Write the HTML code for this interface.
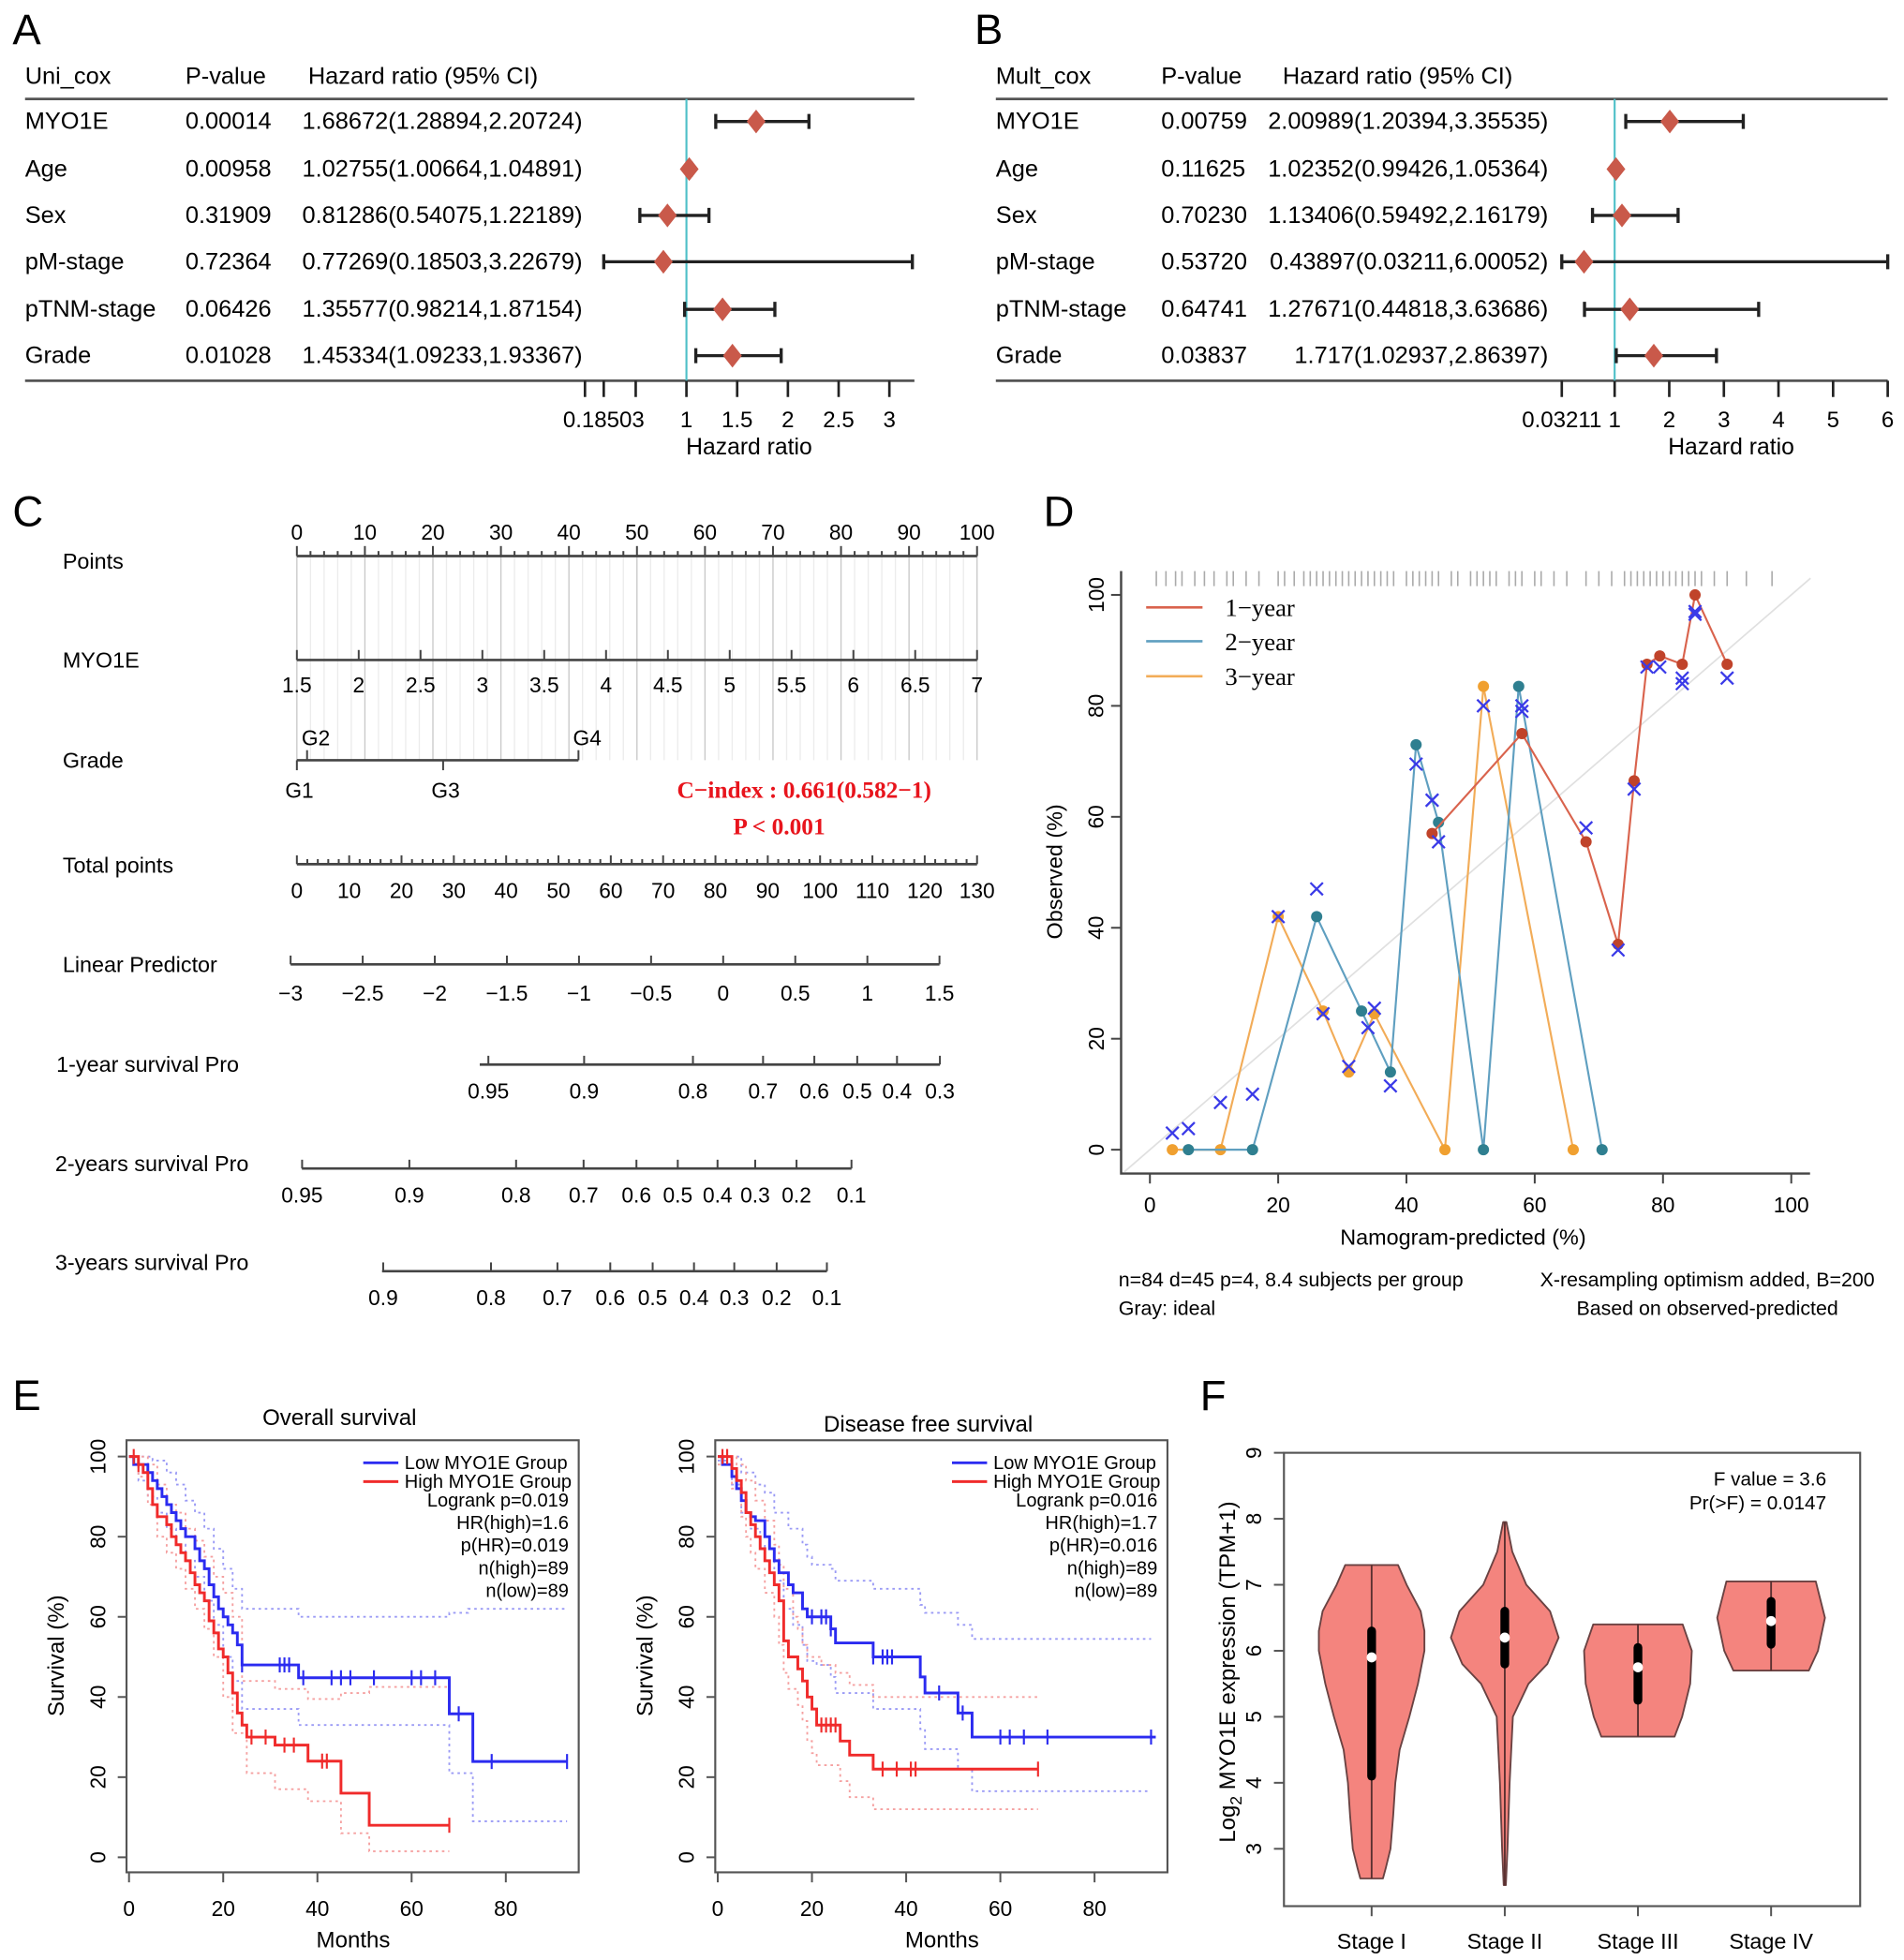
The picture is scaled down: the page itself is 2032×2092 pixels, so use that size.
<!DOCTYPE html>
<html><head><meta charset="utf-8">
<style>
html,body{margin:0;padding:0;background:#fff}
svg{display:block;font-family:"Liberation Sans",Arial,sans-serif}
</style></head>
<body>
<svg id="fig" width="2032" height="2092" viewBox="0 0 1520 1565" preserveAspectRatio="none" xmlns="http://www.w3.org/2000/svg">
<rect width="1520" height="1565" fill="#fff"/>
<g font-size="34" fill="#000">
<text x="10" y="35">A</text>
<text x="778" y="35">B</text>
<text x="10" y="420">C</text>
<text x="833" y="420">D</text>
<text x="10" y="1126">E</text>
<text x="958" y="1126">F</text>
</g>
</svg>
<script>
// ---------- Panel A data ----------
const uniVars=['MYO1E','Age','Sex','pM-stage','pTNM-stage','Grade'];
const uniP=['0.00014','0.00958','0.31909','0.72364','0.06426','0.01028'];
const uniHR=[1.68672,1.02755,0.81286,0.77269,1.35577,1.45334];
const uniLo=[1.28894,1.00664,0.54075,0.18503,0.98214,1.09233];
const uniHi=[2.20724,1.04891,1.22189,3.22679,1.87154,1.93367];
const uniTicks=[0,0.18503,0.5,1,1.5,2,2.5,3];
const uniTickLabels=['','0.18503','','1','1.5','2','2.5','3'];
// ---------- Panel B data ----------
const multVars=['MYO1E','Age','Sex','pM-stage','pTNM-stage','Grade'];
const multP=['0.00759','0.11625','0.70230','0.53720','0.64741','0.03837'];
const multHR=[2.00989,1.02352,1.13406,0.43897,1.27671,1.717];
const multLo=[1.20394,0.99426,0.59492,0.03211,0.44818,1.02937];
const multHi=[3.35535,1.05364,2.16179,6.00052,3.63686,2.86397];
const multTicks=[0.03211,1,2,3,4,5,6];
const multTickLabels=['0.03211','1','2','3','4','5','6'];
// ---------- Panel C data ----------
const pointsTicks=[0,10,20,30,40,50,60,70,80,90,100];
const myoTicks=[1.5,2,2.5,3,3.5,4,4.5,5,5.5,6,6.5,7];
const gradeLabels=['G1','G2','G3','G4'];
const gradePoints=[0,1.5,21.5,41.4];
const totalTicks=[0,10,20,30,40,50,60,70,80,90,100,110,120,130];
const lpTicks=[-3,-2.5,-2,-1.5,-1,-0.5,0,0.5,1,1.5];
const surv1Labels=['0.95','0.9','0.8','0.7','0.6','0.5','0.4','0.3'];
const surv1Points=[36.6,54.9,75.7,89.1,98.9,107.1,114.7,122.9];
const surv2Labels=['0.95','0.9','0.8','0.7','0.6','0.5','0.4','0.3','0.2','0.1'];
const surv2Points=[1.0,21.5,41.9,54.8,64.9,72.8,80.4,87.6,95.5,106];
const surv3Labels=['0.9','0.8','0.7','0.6','0.5','0.4','0.3','0.2','0.1'];
const surv3Points=[16.5,37.1,49.8,59.9,68,75.9,83.6,91.7,101.3];
// ---------- Panel D data ----------
const cal1X=[44,58,68,73,75.5,77.5,79.5,83,85,90];
const cal1Y=[57,75,55.5,37,66.5,87.5,89,87.5,100,87.5];
const cal2X=[6,16,26,33,37.5,41.5,45,52,57.5,70.5];
const cal2Y=[0,0,42,25,14,73,59,0,83.5,0];
const cal3X=[3.5,11,20,27,31,35,46,52,66];
const cal3Y=[0,0,42,25,14,24.5,0,83.5,0];
const calCorrX=[3.5,6,11,16,20,26,27,31,34,35,37.5,41.5,44,44,45,52,58,58,68,73,75.5,77.5,79.5,83,83,85,85,90];
const calCorrY=[3,3.8,8.5,10,42,47,24.5,15,22,25.5,11.5,69.5,63,63,55.5,80,80,79,58,36,65,87,87,85,84,97,96.5,85];
const rugX=[1,2.5,4,5,7,8.5,10,12,13,15,17,20,21,22.5,24,25,26,27,28,29,30,31,32,33,34,35,36,37,38,40,41,42,43,44,45,47,48,50,51,52,53,54,56,57,58,60,61,63,65,68,70,72,74,75,76,77,78,79,80,81,82,83,84,85,86,88,90,93,97];
const calTicks=[0,20,40,60,80,100];
// ---------- Panel E data ----------
const osLowT=[0,1,4,5,6,7,8,9,10,11,12,14,15,16,17,18,19,20,21,22,23,24,36,68,73];
const osLowS=[100,98,96,94,92,90,88,86,84,82,80,77,74,72,68,65,62,60,58,56,53,48,44.8,35.8,23.9];
const osHighT=[0,2,3,4,5,6,8,9,10,11,12,13,14,15,16,17,18,19,20,21,22,23,24,25,31,38,45,51];
const osHighS=[100,98,96,92,88,85,83,80,78,76,74,71,68,66,64,59,56,52,50,46,41,36,33,30,28,24,16,8];
const osLowUpT=[0,3,5,8,10,12,14,16,18,20,22,24,36,68,72];
const osLowUpS=[100,100,99,96,93,89,86,82,77,72,67,62,60,61,62];
const osLowLoT=[0,2,4,6,8,10,12,14,16,18,20,22,24,36,68,73];
const osLowLoS=[100,94,90,86,82,78,74,70,64,58,50,44,37,33,21,9];
const osHighUpT=[0,4,6,8,10,12,14,16,18,20,22,24,31,38,45,51];
const osHighUpS=[100,98,93,88,86,82,79,75,70,66,60,44,42,39.5,41,42.5];
const osHighLoT=[0,2,4,6,8,10,12,14,16,18,20,22,25,31,38,45,51];
const osHighLoS=[100,95,88,80,76,72,67,62,57,50,40,31,21,17,14,6,1.5];
const osLowCens=[24,32,33,34,37,43,45,47,52,60,62,65,70,77,93];
const osHighCens=[1,2,26,29,33,35,41,42,68];
const dfsLowT=[0,1,3,4,5,6,7,8,10,11,12,13,15,16,18,19,24,25,33,43,44,51,54];
const dfsLowS=[100,98,95,92,89,86,85,84,80,77,74,71,68,66,62,60,57,53.5,50,45,41,36,30];
const dfsHighT=[0,3,4,5,6,7,8,9,10,11,12,13,14,15,17,18,19,20,21,26,28,33];
const dfsHighS=[100,97,94,91,86,83,80,77,74,71,68,64,54,50,47,44,40,37,33,29,25.5,22];
const dfsLowUpT=[0,5,8,10,12,15,18,19,20,24,25,33,43,44,51,54];
const dfsLowUpS=[100,96,93,91,86,82,78,75,73,72,69,67,63,61,58,54.5];
const dfsLowLoT=[0,3,5,7,9,10,12,14,16,18,19,21,24,25,33,43,44,51,54];
const dfsLowLoS=[99,93,86,82,78,74,69,62,58,53,49,48,45,41,37,32,27,22,16.5];
const dfsHighUpT=[0,4,6,8,10,12,13,14,16,17,18,19,22,25,28,33];
const dfsHighUpS=[100,98,94,89,84,78,73,67,60,57,53,50,48,46,43,40];
const dfsHighLoT=[0,3,5,6,7,8,10,12,13,14,15,17,18,19,20,21,26,28,33];
const dfsHighLoS=[98,92,85,80,76,72,66,60,53,46,42,38,34,29,26,23,19,15,12];
const dfsLowCens=[20,22,23,24,33,35,36,37,47,52,60,62,65,70,92];
const dfsHighCens=[1,2,22,23,24,25,35,38,41,42,68];
const kmXTicks=[0,20,40,60,80];
const kmYTicks=[0,20,40,60,80,100];
// ---------- Panel F data ----------
const stages=['Stage I','Stage II','Stage III','Stage IV'];
const vioVals=[
 [2.55,2.7,3.0,3.5,4.0,4.5,5.0,5.5,6.0,6.3,6.6,7.0,7.3],
 [2.45,3.0,3.5,4.0,4.5,5.0,5.5,5.8,6.2,6.6,7.0,7.5,7.95],
 [4.7,5.0,5.5,6.0,6.4],
 [5.7,6.0,6.5,7.05]];
const vioDens=[
 [0.21,0.26,0.35,0.40,0.44,0.52,0.70,0.86,0.98,0.98,0.91,0.65,0.49],
 [0.02,0.05,0.07,0.09,0.12,0.15,0.44,0.79,1.0,0.84,0.40,0.14,0.03],
 [0.68,0.82,0.97,1.0,0.83],
 [0.70,0.87,1.0,0.83]];
const vioMed=[5.9,6.2,5.75,6.45];
const vioQ1=[4.1,5.8,5.25,6.1];
const vioQ3=[6.3,6.6,6.05,6.75];
const fTicks=[3,4,5,6,7,8,9];

const NS='http://www.w3.org/2000/svg';
const svg=document.getElementById('fig');
function mk(tag,attrs,parent){const e=document.createElementNS(NS,tag);for(const k in attrs)e.setAttribute(k,attrs[k]);(parent||svg).appendChild(e);return e;}
function tx(x,y,s,attrs,parent){const e=mk('text',Object.assign({x:x,y:y},attrs||{}),parent);e.textContent=s;return e;}

// ================= Forest plots =================
function forest(gname,xs,x0,x1,vars,ps,hr,lo,hi,ticks,tickLabels,hdr,colX,hrEnd,axisLabelX){
  const g=mk('g',{});
  
  
  const rows=[97,135,172,209,247,284];
  const FS=19;
  const h1=tx(colX[0],67,hdr,{'font-size':FS},g);
  
  
  const h2=tx(colX[1],67,'P-value',{'font-size':FS},g);
  
  
  const h3=tx(colX[2],67,'Hazard ratio (95% CI)',{'font-size':FS},g);
  
  
  const tl=mk('line',{x1:x0,x2:x1,y1:79,y2:79,stroke:'#555','stroke-width':2},g);
  
  
  const bl=mk('line',{x1:x0,x2:x1,y1:304,y2:304,stroke:'#555','stroke-width':2},g);
  
  
  const ref=mk('line',{x1:xs(1),x2:xs(1),y1:79,y2:304,stroke:'#4fc0c8','stroke-width':1.6},g);
  
  
  for(let i=0;i<vars.length;i++){
    const y=rows[i];
    const a=tx(colX[0],y+6,vars[i],{'font-size':FS},g);
    
    
    const b=tx(colX[1],y+6,ps[i],{'font-size':FS},g);
    
    
    const c=tx(hrEnd,y+6,hr[i]+'('+lo[i]+','+hi[i]+')',{'font-size':FS,'text-anchor':'end'},g);
    
    
    const eb=mk('path',{d:'M'+xs(lo[i])+','+y+' H'+xs(hi[i])+' M'+xs(lo[i])+','+(y-6)+' V'+(y+6)+' M'+xs(hi[i])+','+(y-6)+' V'+(y+6),stroke:'#222','stroke-width':2.5,fill:'none'},g);
    
    
    const cx=xs(hr[i]);
    const dm=mk('polygon',{points:(cx-7.5)+','+y+' '+cx+','+(y-9.5)+' '+(cx+7.5)+','+y+' '+cx+','+(y+9.5),fill:'#c9594a'},g);
    
    
  }
  for(let i=0;i<ticks.length;i++){
    const x=xs(ticks[i]);
    const t=mk('line',{x1:x,x2:x,y1:304,y2:317,stroke:'#222','stroke-width':2},g);
    
    
    if(tickLabels[i]){
      const l=tx(x,341,tickLabels[i],{'font-size':18,'text-anchor':'middle'},g);
      
      
    }
  }
  const al=tx(axisLabelX,363,'Hazard ratio',{'font-size':18.5,'text-anchor':'middle'},g);
  
  
}
const axA=v=>548+(v-1)*81;
const axB=v=>1289+(v-1)*43.6;
forest('panel-a-univariate-forest',axA,20,730,uniVars,uniP,uniHR,uniLo,uniHi,uniTicks,uniTickLabels,'Uni_cox',[20,148,246],465,598);
forest('panel-b-multivariate-forest',axB,795,1507,multVars,multP,multHR,multLo,multHi,multTicks,multTickLabels,'Mult_cox',[795,927,1024],1236,1382);

// ================= Nomogram =================
const gC=mk('g',{});


const ptsX=v=>237+v*5.43;
const myoX=v=>237+(v-1.5)*(543/5.5);
const totX=v=>237+v*(543/130);
const lpX=v=>232+(v+3)*(518/4.5);
for(let v=0;v<=100;v+=2){
  const gl=mk('line',{x1:ptsX(v),x2:ptsX(v),y1:444,y2:607,stroke:(v%10===0)?'#c8c8c8':'#ececec','stroke-width':1},gC);
  
  
}
function rowLabel(x,y,s,name){const e=tx(x,y,s,{'font-size':17.5},gC);}
rowLabel(50,454,'Points','points-row-label');
rowLabel(50,533,'MYO1E','myo1e-row-label');
rowLabel(50,613,'Grade','grade-row-label');
rowLabel(50,697,'Total points','total-points-row-label');
rowLabel(50,776,'Linear Predictor','linear-predictor-row-label');
rowLabel(45,856,'1-year survival Pro','survival-1yr-row-label');
rowLabel(44,935,'2-years survival Pro','survival-2yr-row-label');
rowLabel(44,1014,'3-years survival Pro','survival-3yr-row-label');
function nAxis(y,xa,xb,name){const l=mk('line',{x1:xa,x2:xb,y1:y,y2:y,stroke:'#444','stroke-width':2},gC);}
function nTick(x,y,len){const t=mk('line',{x1:x,x2:x,y1:y,y2:y-len,stroke:'#444','stroke-width':1.5},gC);}
function nLab(x,y,s){const t=tx(x,y,s,{'font-size':17,'text-anchor':'middle'},gC);}
nAxis(444,ptsX(0),ptsX(100),'points-axis');
for(let v=0;v<=100;v+=2) nTick(ptsX(v),444,v%10===0?8:4);
for(const v of pointsTicks) nLab(ptsX(v),431,String(v));
nAxis(527,myoX(1.5),myoX(7),'myo1e-axis');
for(const v of myoTicks){nTick(myoX(v),527,8);nLab(myoX(v),553,String(v));}
nAxis(607,ptsX(gradePoints[0]),ptsX(gradePoints[3]),'grade-axis');
for(let i=0;i<gradeLabels.length;i++){
  const x=ptsX(gradePoints[i]);
  const up=(i%2===1);
  const t=mk('line',{x1:x,x2:x,y1:607,y2:up?599:615,stroke:'#444','stroke-width':1.5},gC);
  
  
  const l=tx(x+(up?7:2),up?595:637,gradeLabels[i],{'font-size':17,'text-anchor':'middle'},gC);
  
  
}
const ci1=tx(642,637,'C\u2212index : 0.661(0.582\u22121)',{'font-size':19,'font-weight':'bold','fill':'#e8141c','text-anchor':'middle','font-family':'"Liberation Serif",serif'},gC);


const ci2=tx(622,666,'P < 0.001',{'font-size':19,'font-weight':'bold','fill':'#e8141c','text-anchor':'middle','font-family':'"Liberation Serif",serif'},gC);


nAxis(690,totX(0),totX(130),'total-points-axis');
for(let v=0;v<=130;v+=2) nTick(totX(v),690,v%10===0?7:4);
for(const v of totalTicks) nLab(totX(v),717,String(v));
nAxis(770,lpX(-3),lpX(1.5),'linear-predictor-axis');
for(const v of lpTicks){nTick(lpX(v),770,7);nLab(lpX(v),799,String(v).replace('-','\u2212'));}
function survAxis(y,pts,labs,x0,name){
  nAxis(y,x0,totX(pts[pts.length-1]),name);
  for(let i=0;i<pts.length;i++){nTick(totX(pts[i]),y,7);nLab(totX(pts[i]),y+27,labs[i]);}
}
survAxis(850,surv1Points,surv1Labels,383,'survival-1yr-axis');
survAxis(933,surv2Points,surv2Labels,241,'survival-2yr-axis');
survAxis(1015,surv3Points,surv3Labels,305,'survival-3yr-axis');

// ================= Calibration =================
const gD=mk('g',{});


const dx=v=>918+v*5.12;
const dy=v=>918-v*4.43;
const dAx=mk('path',{d:'M895,456 V937 H1445',stroke:'#444','stroke-width':1.8,fill:'none'},gD);


const ideal=mk('line',{x1:dx(-4),y1:dy(-4),x2:dx(103),y2:dy(103),stroke:'#e0e0e0','stroke-width':1.3},gD);


for(const v of rugX){
  const r=mk('line',{x1:dx(v),x2:dx(v),y1:456,y2:468,stroke:'#aaa','stroke-width':1.2},gD);
  
  
}
for(const v of calTicks){
  const t=mk('line',{x1:dx(v),x2:dx(v),y1:937,y2:945,stroke:'#444','stroke-width':1.5},gD);
  
  
  const l=tx(dx(v),968,String(v),{'font-size':17,'text-anchor':'middle'},gD);
  
  
  const t2=mk('line',{x1:895,x2:887,y1:dy(v),y2:dy(v),stroke:'#444','stroke-width':1.5},gD);
  
  
  const l2=tx(881,dy(v),String(v),{'font-size':17,'text-anchor':'middle',transform:'rotate(-90 881 '+dy(v)+')'},gD);
  
  
}
const dxl=tx(1168,994,'Namogram-predicted (%)',{'font-size':17.5,'text-anchor':'middle'},gD);


const dyl=tx(848,696,'Observed (%)',{'font-size':17.5,'text-anchor':'middle',transform:'rotate(-90 848 696)'},gD);


function calSeries(xs,ys,lineCol,ptCol,name){
  let d='';
  for(let i=0;i<xs.length;i++) d+=(i?' L':'M')+dx(xs[i])+','+dy(ys[i]);
  const p=mk('path',{d:d,stroke:lineCol,'stroke-width':1.6,fill:'none'},gD);
  
  
  for(let i=0;i<xs.length;i++){
    const c=mk('circle',{cx:dx(xs[i]),cy:dy(ys[i]),r:4.5,fill:ptCol},gD);
    
    
  }
}
calSeries(cal3X,cal3Y,'#f2ac58','#f0a030','cal-3-year');
calSeries(cal2X,cal2Y,'#5f9fc0','#2f7f90','cal-2-year');
calSeries(cal1X,cal1Y,'#d9634d','#c0432a','cal-1-year');
for(let i=0;i<calCorrX.length;i++){
  const x=dx(calCorrX[i]),y=dy(calCorrY[i]);
  const m=mk('path',{d:'M'+(x-5)+','+(y-5)+' L'+(x+5)+','+(y+5)+' M'+(x-5)+','+(y+5)+' L'+(x+5)+','+(y-5),stroke:'#3a3ae8','stroke-width':1.7},gD);
  
  
}
const legD=[['1\u2212year','#d9634d',485],['2\u2212year','#5f9fc0',512],['3\u2212year','#f2ac58',540]];
for(const L of legD){
  const l=mk('line',{x1:915,x2:960,y1:L[2],y2:L[2],stroke:L[1],'stroke-width':2},gD);
  
  
  const t=tx(978,L[2]+7,L[0],{'font-size':20,'font-family':'"Liberation Serif",serif'},gD);
  
  
}
const fn1=tx(893,1027,'n=84 d=45 p=4, 8.4 subjects per group',{'font-size':16},gD);


const fn2=tx(893,1050,'Gray: ideal',{'font-size':16},gD);


const fn3=tx(1363,1027,'X-resampling optimism added, B=200',{'font-size':16,'text-anchor':'middle'},gD);


const fn4=tx(1363,1050,'Based on observed-predicted',{'font-size':16,'text-anchor':'middle'},gD);



// ================= KM =================
const ey=s=>1483-s*3.2;
function kmPanel(gname,x0,title,titleY,curves,cens,stats){
  const g=mk('g',{});
  
  
  const xf=t=>x0+2+t*3.76;
  const box=mk('rect',{x:x0,y:1150,width:361,height:345,fill:'none',stroke:'#555','stroke-width':1.6},g);
  
  
  const tt=tx(x0+170,titleY,title,{'font-size':18,'text-anchor':'middle'},g);
  
  
  for(const v of kmXTicks){
    const t=mk('line',{x1:xf(v),x2:xf(v),y1:1495,y2:1503,stroke:'#555','stroke-width':1.5},g);
    
    
    const l=tx(xf(v),1530,String(v),{'font-size':17,'text-anchor':'middle'},g);
    
    
  }
  for(const v of kmYTicks){
    const t=mk('line',{x1:x0,x2:x0-7,y1:ey(v),y2:ey(v),stroke:'#555','stroke-width':1.5},g);
    
    
    const lx=x0-17;
    const l=tx(lx,ey(v),String(v),{'font-size':17,'text-anchor':'middle',transform:'rotate(-90 '+lx+' '+ey(v)+')'},g);
    
    
  }
  const xl=tx(x0+181,1555,'Months',{'font-size':18,'text-anchor':'middle'},g);
  
  
  const yx=x0-50;
  const yl=tx(yx,1322,'Survival (%)',{'font-size':18,'text-anchor':'middle',transform:'rotate(-90 '+yx+' 1322)'},g);
  
  
  for(const c of curves){
    const ts=c[0],ss=c[1];
    let d='M'+xf(ts[0])+','+ey(ss[0]);
    for(let i=1;i<ts.length;i++) d+=' H'+xf(ts[i])+' V'+ey(ss[i]);
    d+=' H'+xf(c[2]);
    const attrs={d:d,fill:'none',stroke:c[3],'stroke-width':c[4]?2.2:1.4};
    if(!c[4]) attrs['stroke-dasharray']='2,3';
    const p=mk('path',attrs,g);
    
    
  }
  for(const cs of cens){
    const ts=cs[0],ss=cs[1];
    for(const c of cs[2]){
      let s=ss[0];
      for(let i=0;i<ts.length;i++) if(ts[i]<=c) s=ss[i];
      const m=mk('line',{x1:xf(c),x2:xf(c),y1:ey(s)-6,y2:ey(s)+6,stroke:cs[3],'stroke-width':1.6},g);
      
      
    }
  }
  const lx0=x0+189;
  const lb=mk('line',{x1:lx0,x2:lx0+28,y1:1168,y2:1168,stroke:'#2b2bf0','stroke-width':2.2},g);
  
  
  const lr=mk('line',{x1:lx0,x2:lx0+28,y1:1183,y2:1183,stroke:'#f02b2b','stroke-width':2.2},g);
  
  
  const t1=tx(lx0+33,1173,'Low MYO1E Group',{'font-size':15},g);
  
  
  const t2=tx(lx0+33,1188,'High MYO1E Group',{'font-size':15},g);
  
  
  for(let i=0;i<stats.length;i++){
    const s=tx(x0+353,1203+i*18,stats[i],{'font-size':15,'text-anchor':'end'},g);
    
    
  }
}
kmPanel('panel-e-overall-survival',101,'Overall survival',1138,[
  [osLowUpT,osLowUpS,93,'#9a9af5',false,'low-ci-upper'],
  [osLowLoT,osLowLoS,93,'#9a9af5',false,'low-ci-lower'],
  [osHighUpT,osHighUpS,68,'#f5a0a0',false,'high-ci-upper'],
  [osHighLoT,osHighLoS,68,'#f5a0a0',false,'high-ci-lower'],
  [osLowT,osLowS,93,'#2b2bf0',true,'low-group-curve'],
  [osHighT,osHighS,68,'#f02b2b',true,'high-group-curve']],
  [[osLowT,osLowS,osLowCens,'#2b2bf0'],[osHighT,osHighS,osHighCens,'#f02b2b']],
  ['Logrank p=0.019','HR(high)=1.6','p(HR)=0.019','n(high)=89','n(low)=89']);
kmPanel('panel-e-disease-free-survival',571,'Disease free survival',1143,[
  [dfsLowUpT,dfsLowUpS,92,'#9a9af5',false,'low-ci-upper'],
  [dfsLowLoT,dfsLowLoS,92,'#9a9af5',false,'low-ci-lower'],
  [dfsHighUpT,dfsHighUpS,68,'#f5a0a0',false,'high-ci-upper'],
  [dfsHighLoT,dfsHighLoS,68,'#f5a0a0',false,'high-ci-lower'],
  [dfsLowT,dfsLowS,93,'#2b2bf0',true,'low-group-curve'],
  [dfsHighT,dfsHighS,68,'#f02b2b',true,'high-group-curve']],
  [[dfsLowT,dfsLowS,dfsLowCens,'#2b2bf0'],[dfsHighT,dfsHighS,dfsHighCens,'#f02b2b']],
  ['Logrank p=0.016','HR(high)=1.7','p(HR)=0.016','n(high)=89','n(low)=89']);

// ================= Violin =================
const gF=mk('g',{});


const fy=v=>1160+(9-v)*52.7;
const fx=i=>1095+i*106.3;
const fbox=mk('rect',{x:1025,y:1160,width:460,height:362,fill:'none',stroke:'#555','stroke-width':1.6},gF);


for(const v of fTicks){
  const t=mk('line',{x1:1025,x2:1017,y1:fy(v),y2:fy(v),stroke:'#555','stroke-width':1.5},gF);
  
  
  const l=tx(1007,fy(v),String(v),{'font-size':17,'text-anchor':'middle',transform:'rotate(-90 1007 '+fy(v)+')'},gF);
  
  
}
const fyl=mk('text',{x:986,y:1335,'font-size':18,'text-anchor':'middle',transform:'rotate(-90 986 1335)'},gF);


fyl.innerHTML='Log<tspan font-size="13" dy="5">2</tspan><tspan dy="-5"> MYO1E expression (TPM+1)</tspan>';
for(let i=0;i<stages.length;i++){
  const cx=fx(i),vals=vioVals[i],den=vioDens[i],W=43;
  let d='M'+(cx-den[0]*W)+','+fy(vals[0]);
  for(let j=0;j<vals.length;j++) d+=' L'+(cx+den[j]*W)+','+fy(vals[j]);
  for(let j=vals.length-1;j>=0;j--) d+=' L'+(cx-den[j]*W)+','+fy(vals[j]);
  d+=' Z';
  const v=mk('path',{d:d,fill:'#f4847e',stroke:'#6a4242','stroke-width':1.4,'stroke-linejoin':'round'},gF);
  
  
  const wl=mk('line',{x1:cx,x2:cx,y1:fy(vals[0]),y2:fy(vals[vals.length-1]),stroke:'#5a3030','stroke-width':1.4},gF);
  
  
  const bx=mk('line',{x1:cx,x2:cx,y1:fy(vioQ1[i]),y2:fy(vioQ3[i]),stroke:'#000','stroke-width':7,'stroke-linecap':'round'},gF);
  
  
  const md=mk('circle',{cx:cx,cy:fy(vioMed[i]),r:4,fill:'#fff'},gF);
  
  
  const t=mk('line',{x1:cx,x2:cx,y1:1522,y2:1530,stroke:'#555','stroke-width':1.5},gF);
  
  
  const l=tx(cx,1556,stages[i],{'font-size':17.5,'text-anchor':'middle'},gF);
  
  
}
const fv=tx(1458,1186,'F value = 3.6',{'font-size':15.5,'text-anchor':'end'},gF);


const fp=tx(1458,1205,'Pr(>F) = 0.0147',{'font-size':15.5,'text-anchor':'end'},gF);


</script>
</body></html>
